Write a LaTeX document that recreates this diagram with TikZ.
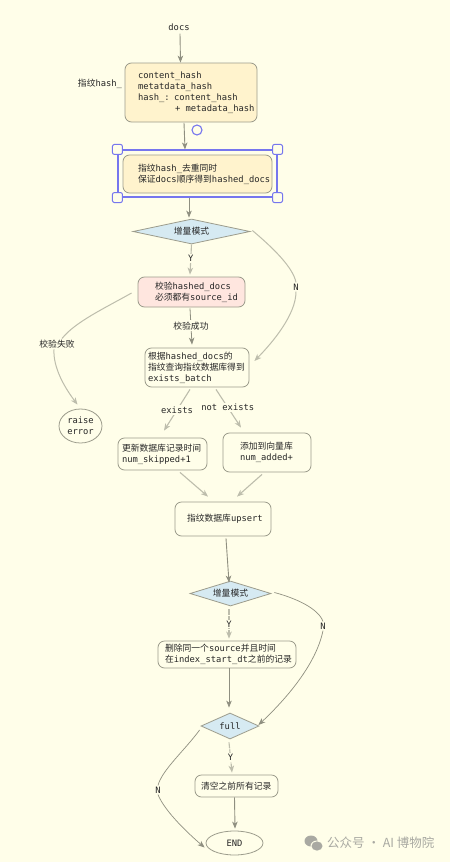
\documentclass[tikz,border=0pt]{standalone}
\usepackage{fontspec}
\setmainfont{DejaVu Sans Mono}
\newfontfamily\cjk{Noto Sans CJK SC}
\usetikzlibrary{shapes.geometric,arrows.meta}
\newcommand\C[1]{{\cjk #1}}
\newcommand\I[1]{\hspace*{#1pt}}
\definecolor{bgc}{HTML}{FFFEE9}
\definecolor{yel}{HTML}{FFF3CD}
\definecolor{pnk}{HTML}{FFE6DF}
\definecolor{blu}{HTML}{D6EAF2}
\definecolor{edgec}{HTML}{9C9C8C}
\definecolor{linec}{HTML}{8F8F80}
\definecolor{lightc}{HTML}{BDBDAC}
\definecolor{txt}{HTML}{262626}
\definecolor{sel}{HTML}{7676EE}
\definecolor{wm}{HTML}{A9A9A2}
\tikzset{
  base/.style={draw=edgec,line width=.8pt,text=txt,inner sep=0pt,font=\fontsize{8.8}{11}\selectfont},
  box/.style={base,rectangle,rounded corners=6.5pt,align=left,inner ysep=0pt,fill=bgc},
  ybox/.style={box,fill=yel},
  pbox/.style={box,fill=pnk},
  dia/.style={base,diamond,fill=blu,align=center},
  ell/.style={base,ellipse,fill=bgc,align=center},
  lab/.style={text=txt,fill=bgc,inner sep=1.2pt,font=\fontsize{8.8}{11}\selectfont},
  plain/.style={text=txt,inner sep=0pt,font=\fontsize{8.8}{11}\selectfont},
  arr/.style={draw=linec,line width=.9pt,-{Stealth[inset=2pt,length=7pt,width=5.5pt]}},
  soft/.style={draw=lightc,line width=1.1pt,-{Stealth[inset=2pt,length=7pt,width=5.5pt]}},
  seg/.style={draw=lightc,line width=1pt},
  thin seg/.style={draw=linec,line width=.7pt},
  selbox/.style={draw=sel,line width=1.1pt,rectangle,inner sep=0pt,minimum width=159pt,minimum height=47pt},
  handle/.style={draw=sel,line width=1pt,fill=bgc,rectangle,rounded corners=2pt,inner sep=0pt,minimum size=10pt},
}
\begin{document}
\begin{tikzpicture}[x=1pt,y=-1pt]
\useasboundingbox (0,0) rectangle (450,862);
\fill[bgc] (0,0) rectangle (450,862);

% nodes
\node[plain] (docs) at (179,27) {docs};
\node[ybox,text width=132pt,minimum height=59pt] (hash) at (191,92.5)
  {\I{13}content\_hash\\\I{13}metatdata\_hash\\\I{13}hash\_: content\_hash\\\I{50}+\hspace{5.3pt}metadata\_hash};
\node[plain] (hashlabel) at (100,84) {\C{指纹}hash\_};
\node[draw=sel,line width=1.1pt,fill=bgc,circle,inner sep=0pt,minimum size=10pt] (rot) at (197,130) {};
\node[selbox] (selr) at (197.5,173.5) {};
\node[ybox,text width=149pt,minimum height=38pt] (dedup) at (197.5,174)
  {\I{15}\C{指纹}hash\_\C{去重同时}\\\I{15}\C{保证}docs\C{顺序得到}hashed\_docs};
\foreach \a/\n in {north west/h1,north east/h2,south west/h3,south east/h4}
  \node[handle] (\n) at (selr.\a) {};
\node[dia,aspect=4.68,minimum width=117pt,minimum height=25pt] (d1) at (191.5,231.5) {\C{增量模式}};
\node[pbox,text width=107pt,minimum height=30pt] (check) at (191.5,292)
  {\I{17}\C{校验}hashed\_docs\\\I{17}\C{必须都有}source\_id};
\node[box,text width=104pt,minimum height=39pt] (exist) at (197,367.5)
  {\I{3}\C{根据}hashed\_docs\C{的}\\\I{3}\C{指纹查询指纹数据库得到}\\\I{3}exists\_batch};
\node[ell,minimum width=43pt,minimum height=34pt] (raise) at (80.5,426) {raise\\error};
\node[box,text width=89pt,minimum height=32pt] (update) at (162.5,454)
  {\I{4}\C{更新数据库记录时间}\\\I{4}num\_skipped+1};
\node[box,text width=88pt,minimum height=39pt] (add) at (267,452.5)
  {\I{17}\C{添加到向量库}\\\I{17}num\_added+};
\node[box,text width=96pt,minimum height=34pt] (upsert) at (223,519)
  {\I{12}\C{指纹数据库}upsert};
\node[dia,aspect=3.24,minimum width=81pt,minimum height=25pt] (d2) at (230.5,593.5) {\C{增量模式}};
\node[box,text width=138pt,minimum height=27pt] (del) at (227,654.5)
  {\I{7}\C{删除同一个}source\C{并且时间}\\\I{7}\C{在}index\_start\_dt\C{之前的记录}};
\node[dia,aspect=2.2,minimum width=58pt,minimum height=26pt] (full) at (230,726) {full};
\node[box,text width=83pt,minimum height=22pt] (clear) at (236.5,786)
  {\I{6}\C{清空之前所有记录}};
\node[ell,minimum width=57pt,minimum height=24pt] (end) at (234.5,843) {END};

% edge labels that split curved connectors
\node[lab] (ln1) at (296,287) {N};
\node[lab] (lfail) at (57,344) {\C{校验失败}};
\node[lab] (ln2) at (323,626) {N};
\node[lab] (ln3) at (158,790) {N};

% connectors
\draw[arr] ([xshift=1pt,yshift=-3pt]docs.south) -- ([xshift=-10.5pt]hash.north);
\draw[arr] ([xshift=-7pt,yshift=-.5pt]hash.south) -- ([xshift=-12.5pt]selr.north);
\draw[arr] ([xshift=-8.5pt]selr.south) -- ([xshift=-2.5pt,yshift=1pt]d1.north);
\draw[soft] (d1.south) -- node[lab,pos=.47] (ly1) {Y} ([xshift=-1.5pt,yshift=2pt]check.north);
\draw[seg] ([xshift=2pt,yshift=1pt]d1.east) .. controls (272,247) and (293,267) .. (ln1.north);
\draw[arr,draw=lightc,line width=1pt] (ln1.south) .. controls (296,315) and (272,343) .. ([xshift=5pt,yshift=6.5pt]exist.east);
\draw[seg] ([xshift=-6pt,yshift=-1pt]check.west) .. controls (105,308) and (75,322) .. ([xshift=5pt]lfail.north);
\draw[arr,draw=lightc,line width=1pt] ([xshift=-3pt]lfail.south) .. controls (53,368) and (65,388) .. ([xshift=-3pt,yshift=4pt]raise.north);
\draw[soft,draw=linec,line width=.8pt] ([xshift=-1.5pt,yshift=-1pt]check.south) -- node[lab,pos=.48] (ls) {\C{校验成功}} ([xshift=-5pt,yshift=3pt]exist.north);
\draw[soft] ([xshift=-7pt,yshift=-2pt]exist.south) -- node[lab,pos=.5] (le) {exists} ([xshift=1.5pt,yshift=7pt]update.north);
\draw[soft] ([xshift=19pt,yshift=-2pt]exist.south) -- node[lab,pos=.47] (lne) {not exists} ([xshift=-26pt,yshift=5pt]add.north);
\draw[soft] ([xshift=17.5pt,yshift=-2pt]update.south) -- ([xshift=-15pt,yshift=5pt]upsert.north);
\draw[soft] ([xshift=-5pt,yshift=-2pt]add.south) -- ([xshift=14pt,yshift=5pt]upsert.north);
\draw[arr] ([xshift=3pt,yshift=-2pt]upsert.south) -- ([xshift=-1.5pt,yshift=-2pt]d2.north);
\draw[soft,dash pattern=on 6pt off 1pt] ([xshift=-1.5pt,yshift=-3pt]d2.south) -- node[lab,pos=.5] (ly2) {Y} ([xshift=2pt,yshift=2pt]del.north);
\draw[thin seg] ([xshift=3pt,yshift=1pt]d2.east) .. controls (295,598) and (318,608) .. (ln2.north);
\draw[arr,line width=.7pt] (ln2.south) .. controls (316,665) and (285,700) .. ([xshift=-1pt,yshift=1pt]full.east);
\draw[arr] ([xshift=2pt]del.south) -- ([xshift=-1pt,yshift=5pt]full.north);
\draw[soft,dash pattern=on 6pt off 1pt] ([xshift=-1pt,yshift=-3pt]full.south) -- node[lab,pos=.5] (ly3) {Y} ([xshift=-4.5pt,yshift=2pt]clear.north);
\draw[thin seg] ([xshift=-1pt,yshift=-4pt]full.west) .. controls (185,750) and (162,770) .. (ln3.north);
\draw[arr,line width=.7pt] (ln3.south) .. controls (165,812) and (190,835) .. ([xshift=-1pt,yshift=-4.5pt]end.west);
\draw[arr] ([xshift=-2pt]clear.south) -- ([xshift=.5pt,yshift=2pt]end.north);

% watermark
\fill[wm] (311,841) ellipse [x radius=6.5pt,y radius=5.5pt];
\fill[bgc] (317,846) ellipse [x radius=6.5pt,y radius=5.5pt];
\fill[wm] (317,846) ellipse [x radius=5.5pt,y radius=4.6pt];
\node[inner sep=0pt,anchor=west,text=wm,font=\cjk\fontsize{12.5}{14}\selectfont] (wmark) at (327,843) {公众号 · AI 博物院};
\end{tikzpicture}
\end{document}
